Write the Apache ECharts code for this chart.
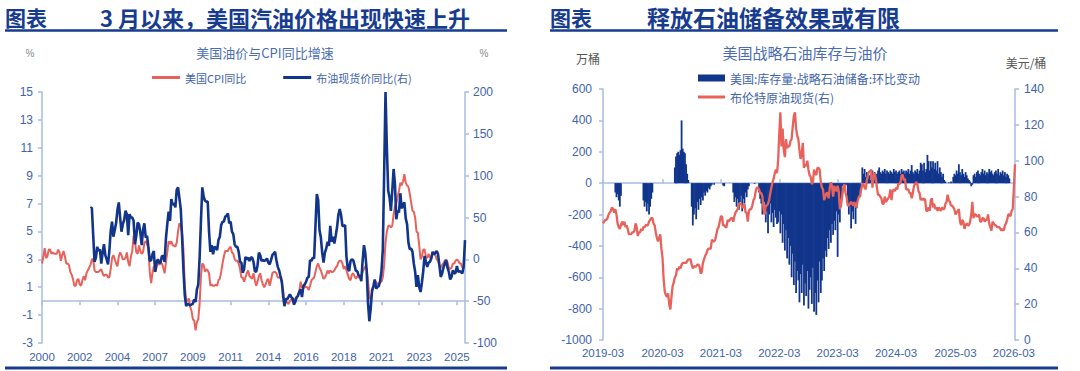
<!DOCTYPE html>
<html><head><meta charset="utf-8">
<script src="https://cdn.jsdelivr.net/npm/echarts@6/dist/echarts.min.js"></script>
<style>html,body{margin:0;padding:0;background:#fff}#c{width:1080px;height:371px}</style>
</head><body><div id="c"></div>
<script>
// ---------- Left panel: US CPI YoY (%) and Brent spot YoY (%), monthly from 2000-01 ----------
const CPI_START_YEAR = 2000;
const CPI_YOY = [
2.7,3.2,3.8,3.1,3.2,3.7,3.7,3.4,3.5,3.4,3.4,3.4,
3.7,3.5,2.9,3.3,3.6,3.2,2.7,2.7,2.6,2.1,1.9,1.6,
1.1,1.1,1.5,1.6,1.2,1.1,1.5,1.8,1.5,2.0,2.2,2.4,
2.6,3.0,3.0,2.2,2.1,2.1,2.1,2.2,2.3,2.0,1.8,1.9,
1.9,1.7,1.7,2.3,3.1,3.3,3.0,2.7,2.5,3.2,3.5,3.3,
3.0,3.0,3.1,3.5,2.8,2.5,3.2,3.6,4.7,4.3,3.5,3.4,
4.0,3.6,3.4,3.5,4.2,4.3,4.1,3.8,2.1,1.3,2.0,2.5,
2.1,2.4,2.8,2.6,2.7,2.7,2.4,2.0,2.8,3.5,4.3,4.1,
4.3,4.0,4.0,3.9,4.2,5.0,5.6,5.4,4.9,3.7,1.1,0.1,
0.0,0.2,-0.4,-0.7,-1.3,-1.4,-2.1,-1.5,-1.3,-0.2,1.8,2.7,
2.6,2.1,2.3,2.2,2.0,1.1,1.2,1.1,1.1,1.2,1.1,1.5,
1.6,2.1,2.7,3.2,3.6,3.6,3.6,3.8,3.9,3.5,3.4,3.0,
2.9,2.9,2.7,2.3,1.7,1.7,1.4,1.7,2.0,2.2,1.8,1.7,
1.6,2.0,1.5,1.1,1.4,1.8,2.0,1.5,1.2,1.0,1.2,1.5,
1.6,1.1,1.5,2.0,2.1,2.1,2.0,1.7,1.7,1.7,1.3,0.8,
-0.1,0.0,-0.1,-0.2,0.0,0.1,0.2,0.2,0.0,0.2,0.5,0.7,
1.4,1.0,0.9,1.1,1.0,1.0,0.8,1.1,1.5,1.6,1.7,2.1,
2.5,2.7,2.4,2.2,1.9,1.6,1.7,1.9,2.2,2.0,2.2,2.1,
2.1,2.2,2.4,2.5,2.8,2.9,2.9,2.7,2.3,2.5,2.2,1.9,
1.6,1.5,1.9,2.0,1.8,1.6,1.8,1.7,1.7,1.8,2.1,2.3,
2.5,2.3,1.5,0.3,0.1,0.6,1.0,1.3,1.4,1.2,1.2,1.4,
1.4,1.7,2.6,4.2,5.0,5.4,5.4,5.3,5.4,6.2,6.8,7.0,
7.5,7.9,8.5,8.3,8.6,9.1,8.5,8.3,8.2,7.7,7.1,6.5,
6.4,6.0,5.0,4.9,4.0,3.0,3.2,3.7,3.7,3.2,3.1,3.4,
3.1,3.2,3.5,3.4,3.3,3.0,2.9,2.5,2.4,2.6,2.7,2.9,
3.0,2.8,2.4,2.3,2.4,2.7,2.7,2.9,3.0,2.9,2.7,2.7,
2.4,2.5,null
];
const BRENT_YOY = [
null,null,null,null,null,null,null,null,null,null,null,null,
null,null,null,null,null,null,null,null,null,null,null,null,
null,null,null,null,null,null,null,null,null,null,null,null,
61,62,29,-3,2,15,10,12,-5,8,18,5,
0,-6,10,34,45,27,35,43,59,68,50,33,
42,47,58,54,29,54,50,50,46,18,28,44,
42,32,17,35,43,26,28,14,-2,-1,6,10,
-15,-4,0,-4,-4,4,4,-3,25,42,57,46,
72,65,67,62,83,86,73,60,26,-13,-43,-56,
-53,-54,-55,-54,-53,-48,-51,-36,-30,2,46,86,
75,70,69,69,33,9,17,6,15,14,11,23,
27,41,45,45,51,52,55,43,45,33,30,18,
15,15,9,-3,-4,-16,-12,3,0,2,-2,2,
2,-3,-14,-15,-7,8,5,-2,-1,-2,-1,1,
-4,-6,-1,5,7,9,-1,-9,-13,-20,-26,-44,
-56,-47,-48,-45,-42,-45,-47,-54,-51,-45,-44,-39,
-36,-45,-32,-30,-27,-22,-21,-1,-2,2,1,40,
78,71,35,26,8,-4,8,13,21,16,40,21,
27,19,28,38,53,60,53,40,40,41,3,-11,
-14,-2,0,-1,-7,-14,-14,-19,-20,-26,-2,17,
7,-13,-52,-74,-59,-37,-32,-24,-35,-33,-32,-26,
-14,12,104,200,133,82,74,58,82,108,90,48,
58,56,79,61,65,68,49,42,20,12,13,9,
-5,-15,-33,-19,-33,-39,-28,-14,4,-3,-9,-4,
-3,1,9,6,8,10,6,-7,-21,-17,-10,-5,
-1,-10,-15,-24,-21,-13,-17,-16,-8,-15,-14,-15,
-17,-9,23
];
const LEFT_Y_TICKS = [-3,-1,1,3,5,7,9,11,13,15];
const LEFT_X_LABEL_STEP = 28; // months between year labels

// ---------- Right panel: weekly SPR change (10k bbl) and Brent spot (USD/bbl), from 2019-03-01 ----------
const SPR_START = '2019-03-01';
const SPR_CHG = [
0,0,0,0,0,0,0,0,0,0,0,
-60,-90,-70,-110,-150,-80,
0,0,0,0,0,0,0,0,0,0,0,0,0,0,0,0,0,0,0,
-110,-150,-120,-180,-130,-200,-150,-100,-60,
0,0,0,0,0,0,0,0,0,0,0,0,0,0,0,0,0,0,0,
100,170,190,200,180,210,400,220,200,190,120,60,20,
0,0,
-150,-270,-200,-160,-230,-120,-170,-100,-140,-90,-110,-60,-80,-50,-60,-30,-40,-20,-10,
0,-10,
0,0,0,0,0,0,0,
-15,-20,
0,0,0,0,0,0,0,
-60,-120,-90,-150,-100,-170,-120,-80,-180,-100,-130,-60,-90,-40,-20,
0,0,0,0,-5,0,0,0,
-60,-100,-130,-200,-150,-120,-250,-180,-320,-200,-130,-250,-190,-280,-170,-220,-260,
-250,-180,-320,-200,-380,-260,-430,-300,-480,-350,
-520,-400,-600,-450,-650,-500,-700,-560,-620,-760,
-580,-700,-520,-780,-640,-720,-560,-800,-680,-600,
-770,-540,-820,-700,-840,-620,-760,-500,-700,-620,
-480,-560,-430,-470,-350,-420,-300,-380,-260,-330,
-240,-300,-180,-470,-200,-250,-150,
-20,-10,-30,-15,-10,
-120,-200,-150,-290,-180,-230,-140,-260,-160,-100,-80,-40,
0,
100,60,90,40,70,30,50,
20,60,80,40,70,50,
60,80,100,70,60,80,70,90,60,80,70,60,
80,70,60,90,70,80,60,70,80,60,90,70,80,60,80,
70,90,60,80,115,70,60,80,70,90,60,80,130,
120,80,130,70,90,180,140,80,140,100,140,90,130,80,140,60,100,
70,40,60,20,10,0,
0,5,0,10,0,
40,60,50,80,60,120,70,50,90,60,40,70,50,30,20,10,
-20,-10,
50,60,40,70,80,60,50,70,90,60,80,50,70,60,90,70,80,60,50,70,80,60,90,50,70,60,80,50,70,40,60,50,30,
0,0,0,0,0
];
const BRENT_PX = [
65,66,67,67,68, 70,71,72,74, 73,71,73,70,65, 63,62,64,66, 64,66,63,64, 62,59,59,59,60, 60,61,65,63, 58,60,60,62, 61,63,63,64,64, 64,66,67,68,
68,65,64,60,57, 55,57,59,51, 46,34,27,25, 24,26,20,17, 24,30,32,35,36, 40,39,41,40, 42,43,43,43,43, 44,45,45,45, 42,40,41,41, 41,42,42,41,37, 38,43,45,47, 48,50,51,51,
51,56,55,55,56, 59,62,63,66, 69,69,64,64, 63,63,67,66,67, 68,68,66,69, 71,72,73,76, 76,76,74,74,76, 71,71,66,72, 73,73,75,78, 79,83,85,85,84, 82,82,80,73, 70,75,75,76,78,
82,85,88,90, 93,95,93,100, 115,127,108,118, 106,102,112,107,108, 108,111,112,119, 125,127,118,114, 112,106,101,104,110, 96,98,97,100, 95,92,91,87,88, 95,93,92,96, 96,95,88,85, 84,78,80,82,82,
79,85,88,86, 80,86,84,83, 86,83,73,75,80, 85,87,82,80, 75,75,76,77, 76,75,77,74,75, 78,80,80,84, 87,87,85,84, 89,92,94,94,95, 85,91,93,90, 85,81,81,80, 79,76,76,80,77,
78,79,80,84, 78,83,84,83, 85,84,87,87,88, 92,92,89,90, 84,84,84,82,82, 79,82,86,87, 88,87,83,82, 78,79,78,79,78, 72,72,74,72, 78,79,74,76, 73,74,72,74,73, 72,74,73,73,
76,77,81,78,77, 75,75,74,73, 70,71,72,73, 66,64,67,66, 62,64,65,64,64, 66,70,77,68, 70,70,69,69, 70,66,66,68,68, 66,67,67,70, 65,63,61,66,65, 64,64,63,63, 63,62,61,62,
61,64,65,67,70, 70,69,72,73, 85,98
];

// ---------- categories ----------
const MONTHS = CPI_YOY.map((_, i) => {
  const y = CPI_START_YEAR + Math.floor(i / 12), m = i % 12 + 1;
  return y + '-' + String(m).padStart(2, '0');
});
const WEEKS = SPR_CHG.map((_, i) => {
  const d = new Date(Date.parse(SPR_START + 'T00:00:00Z') + i * 7 * 86400000);
  return d.toISOString().slice(0, 10);
});
const isMarchLabel = (idx, val) => val.slice(5, 7) === '03' && Number(val.slice(8, 10)) <= 7;

const NAVY = '#12358c', RED = '#e8625b', AXIS = '#a9bddf', LAB = '#4063ab', TITLE = '#173c8f';
const NUMF = '"Liberation Sans", Arial, sans-serif';
const CJK = '"Noto Sans CJK SC", sans-serif';
const plain = v => String(v);

const yBase = (extra) => Object.assign({
  axisLine: { show: true, lineStyle: { color: AXIS, width: 1.5 } },
  axisTick: { show: true, length: 4, lineStyle: { color: AXIS, width: 1.5 } },
  splitLine: { show: false }
}, extra);

const chart = echarts.init(document.getElementById('c'), null, { renderer: 'svg' });
chart.setOption({
  animation: false,
  backgroundColor: '#fff',
  grid: [
    { left: 42, right: 615, top: 92, bottom: 28 },
    { left: 603, right: 65, top: 89, bottom: 31 }
  ],
  xAxis: [
    { gridIndex: 0, type: 'category', data: MONTHS, boundaryGap: false, position: 'bottom',
      axisLine: { show: false, onZero: false }, axisTick: { show: false },
      axisLabel: { interval: LEFT_X_LABEL_STEP - 1, formatter: v => v.slice(0, 4), color: LAB, fontSize: 11.5, fontFamily: NUMF, margin: 8 } },
    { gridIndex: 0, type: 'category', data: MONTHS, boundaryGap: false, position: 'top',
      axisLine: { show: true, onZero: true, lineStyle: { color: AXIS, width: 1.5 } },
      axisTick: { show: true, inside: true, interval: LEFT_X_LABEL_STEP - 1, length: 4, lineStyle: { color: AXIS, width: 1.5 } },
      axisLabel: { show: false, interval: LEFT_X_LABEL_STEP - 1 } },
    { gridIndex: 1, type: 'category', data: WEEKS, boundaryGap: false, position: 'bottom',
      axisLine: { show: false, onZero: false }, axisTick: { show: false },
      axisLabel: { interval: isMarchLabel, formatter: v => v.slice(0, 7), color: LAB, fontSize: 11.5, fontFamily: NUMF, margin: 7 } },
    { gridIndex: 1, type: 'category', data: WEEKS, boundaryGap: false, position: 'top',
      axisLine: { show: true, onZero: true, lineStyle: { color: AXIS, width: 1.5 } },
      axisTick: { show: true, interval: isMarchLabel, length: 4, lineStyle: { color: AXIS, width: 1.5 } },
      axisLabel: { show: false, interval: isMarchLabel } }
  ],
  yAxis: [
    yBase({ gridIndex: 0, type: 'value', position: 'left', min: -3, max: 15,
      axisLabel: { color: LAB, fontSize: 12, fontFamily: NUMF, margin: 9, customValues: LEFT_Y_TICKS, formatter: plain },
      axisTick: { show: true, length: 4, customValues: LEFT_Y_TICKS, lineStyle: { color: AXIS, width: 1.5 } } }),
    yBase({ gridIndex: 0, type: 'value', position: 'right', min: -100, max: 200, interval: 50,
      axisLabel: { color: LAB, fontSize: 12, fontFamily: NUMF, margin: 8, formatter: plain } }),
    yBase({ gridIndex: 1, type: 'value', position: 'left', min: -1000, max: 600, interval: 200,
      axisLabel: { color: LAB, fontSize: 12, fontFamily: NUMF, margin: 11, formatter: plain } }),
    yBase({ gridIndex: 1, type: 'value', position: 'right', min: 0, max: 140, interval: 20,
      axisLabel: { color: LAB, fontSize: 12, fontFamily: NUMF, margin: 9, formatter: plain } })
  ],
  legend: [
    { data: ['美国CPI同比', '布油现货价同比(右)'], left: 152, top: 72, padding: 0, icon: 'rect',
      itemWidth: 28, itemHeight: 3, itemGap: 37, selectedMode: false,
      textStyle: { color: LAB, fontSize: 11, fontFamily: CJK } },
    { data: ['美国:库存量:战略石油储备:环比变动'], left: 698, top: 72, padding: 0, icon: 'rect',
      itemWidth: 27, itemHeight: 7, selectedMode: false,
      textStyle: { color: LAB, fontSize: 12, fontFamily: CJK } },
    { data: ['布伦特原油现货(右)'], left: 698, top: 91, padding: 0, icon: 'rect',
      itemWidth: 27, itemHeight: 3, selectedMode: false,
      textStyle: { color: LAB, fontSize: 12, fontFamily: CJK } }
  ],
  series: [
    { name: '美国CPI同比', type: 'line', xAxisIndex: 0, yAxisIndex: 0, data: CPI_YOY,
      symbol: 'none', lineStyle: { color: RED, width: 2 }, itemStyle: { color: RED } },
    { name: '布油现货价同比(右)', type: 'line', xAxisIndex: 0, yAxisIndex: 1, data: BRENT_YOY,
      symbol: 'none', lineStyle: { color: NAVY, width: 2.6 }, itemStyle: { color: NAVY } },
    { name: '美国:库存量:战略石油储备:环比变动', type: 'bar', xAxisIndex: 2, yAxisIndex: 2, data: SPR_CHG,
      barWidth: 1.8, itemStyle: { color: NAVY } },
    { name: '布伦特原油现货(右)', type: 'line', xAxisIndex: 2, yAxisIndex: 3, data: BRENT_PX,
      symbol: 'none', lineStyle: { color: RED, width: 2.3 }, itemStyle: { color: RED } }
  ],
  graphic: [
    { type: 'text', x: 5, y: 17, style: { text: '图表', font: 'bold 21px ' + CJK, fill: TITLE, textAlign: 'left', verticalAlign: 'middle', textVerticalAlign: 'middle' } },
    { type: 'text', x: 100, y: 17, style: { text: '3 月以来，美国汽油价格出现快速上升', font: 'bold 22px ' + CJK, fill: TITLE, textAlign: 'left', verticalAlign: 'middle', textVerticalAlign: 'middle' } },
    { type: 'text', x: 550, y: 17, style: { text: '图表', font: 'bold 21px ' + CJK, fill: TITLE, textAlign: 'left', verticalAlign: 'middle', textVerticalAlign: 'middle' } },
    { type: 'text', x: 647, y: 17, style: { text: '释放石油储备效果或有限', font: 'bold 23px ' + CJK, fill: TITLE, textAlign: 'left', verticalAlign: 'middle', textVerticalAlign: 'middle' } },
    { type: 'line', shape: { x1: 5, y1: 30.5, x2: 507, y2: 30.5 }, style: { stroke: TITLE, lineWidth: 2.5 } },
    { type: 'line', shape: { x1: 550, y1: 30.5, x2: 1058, y2: 30.5 }, style: { stroke: TITLE, lineWidth: 2.5 } },
    { type: 'line', shape: { x1: 5, y1: 368, x2: 507, y2: 368 }, style: { stroke: TITLE, lineWidth: 3 } },
    { type: 'line', shape: { x1: 550, y1: 368, x2: 1058, y2: 368 }, style: { stroke: TITLE, lineWidth: 3 } },
    { type: 'text', x: 265, y: 52, style: { text: '美国油价与CPI同比增速', font: '13px ' + CJK, fill: '#4a6cb3', textAlign: 'center', verticalAlign: 'middle', textVerticalAlign: 'middle' } },
    { type: 'text', x: 805, y: 52, style: { text: '美国战略石油库存与油价', font: '15px ' + CJK, fill: '#4a6cb3', textAlign: 'center', verticalAlign: 'middle', textVerticalAlign: 'middle' } },
    { type: 'text', x: 30, y: 53, style: { text: '%', font: '10px ' + NUMF, fill: '#8a8a8a', textAlign: 'center', verticalAlign: 'middle', textVerticalAlign: 'middle' } },
    { type: 'text', x: 484, y: 53, style: { text: '%', font: '10px ' + NUMF, fill: '#8a8a8a', textAlign: 'center', verticalAlign: 'middle', textVerticalAlign: 'middle' } },
    { type: 'text', x: 588, y: 58, style: { text: '万桶', font: '12px ' + CJK, fill: '#555', textAlign: 'center', verticalAlign: 'middle', textVerticalAlign: 'middle' } },
    { type: 'text', x: 1026, y: 62, style: { text: '美元/桶', font: '12px ' + CJK, fill: '#555', textAlign: 'center', verticalAlign: 'middle', textVerticalAlign: 'middle' } }
  ]
});
</script></body></html>
